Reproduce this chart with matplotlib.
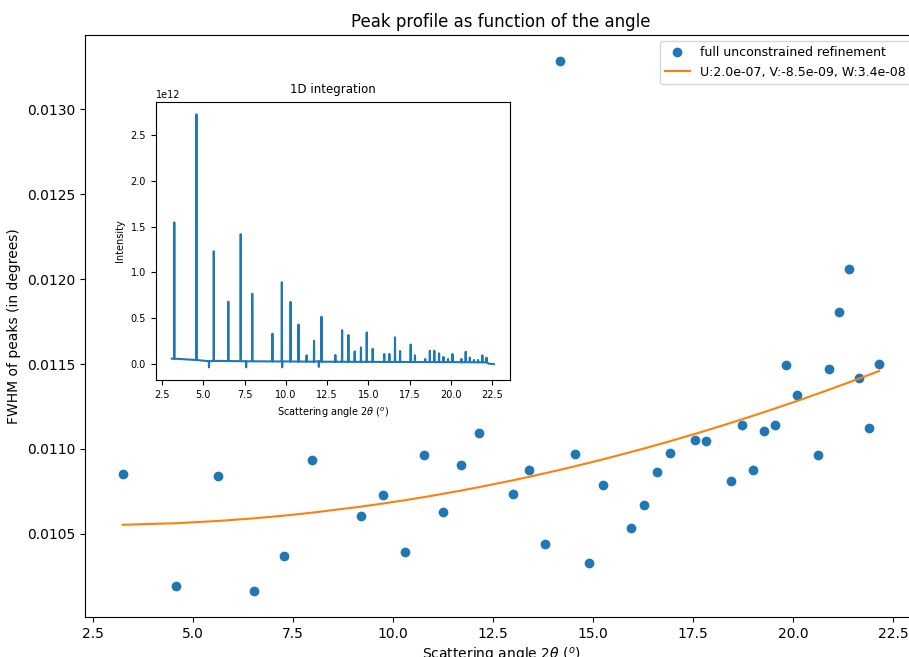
import numpy as np
import matplotlib
matplotlib.use('Agg')
import matplotlib.pyplot as plt

# Peak positions (2theta, degrees) and refined FWHM (degrees)
tth = [3.25, 4.59, 5.64, 6.52, 7.27, 7.97, 9.19, 9.76, 10.29, 10.77,
       11.26, 11.71, 12.16, 13.00, 13.41, 13.79, 14.17, 14.55, 14.90, 15.26,
       15.96, 16.27, 16.61, 16.92, 17.56, 17.82, 18.44, 18.72, 18.99, 19.28,
       19.55, 19.82, 20.09, 20.63, 20.89, 21.14, 21.39, 21.64, 21.90, 22.15]
fwhm = [0.010849, 0.010194, 0.010839, 0.010165, 0.010368, 0.010934, 0.010602, 0.010727, 0.010392, 0.010962,
        0.010626, 0.010907, 0.011096, 0.010733, 0.010877, 0.010437, 0.013283, 0.010967, 0.010328, 0.010788,
        0.010531, 0.010670, 0.010861, 0.010973, 0.011050, 0.011044, 0.010812, 0.011141, 0.010873, 0.011108,
        0.011141, 0.011492, 0.011315, 0.010962, 0.011470, 0.011806, 0.012062, 0.011419, 0.011120, 0.011498]

# Caglioti parameters (from legend)
U, V, W = 2.0e-07, -8.5e-09, 3.4e-08

# 1D integration pattern: peak tops and local baseline (units of 1e12)
peak_int = [1.546, 2.725, 1.232, 0.682, 1.418, 0.768, 0.332, 0.893, 0.679, 0.432,
            0.096, 0.254, 0.518, 0.100, 0.371, 0.318, 0.139, 0.182, 0.346, 0.168,
            0.111, 0.111, 0.293, 0.143, 0.214, 0.096, 0.057, 0.146, 0.146, 0.118,
            0.079, 0.057, 0.111, 0.057, 0.136, 0.071, 0.046, 0.046, 0.096, 0.071]
peak_base = [0.060, 0.045, 0.036, 0.034, 0.032, 0.031, 0.030, 0.029, 0.029, 0.028,
             0.028, 0.027, 0.027, 0.026, 0.026, 0.026, 0.025, 0.025, 0.025, 0.025,
             0.024, 0.024, 0.024, 0.024, 0.023, 0.023, 0.023, 0.023, 0.022, 0.022,
             0.022, 0.022, 0.022, 0.021, 0.021, 0.021, 0.021, 0.020, 0.020, 0.020]
dip_pos = [5.35, 7.60, 9.78, 12.00]
dip_val = [-0.035, -0.035, -0.035, -0.03]
pattern_start = [3.10, 0.060]
pattern_end_x = [22.30, 22.60]
pattern_end_y = [0.005, 0.000]

fig = plt.figure(figsize=(9.09, 6.57), dpi=100)
ax = fig.add_axes([0.0935, 0.0609, 0.9153, 0.8858])

ax.plot(tth, fwhm, 'o', label='full unconstrained refinement')
theta = np.radians(np.array(tth) / 2.0)
t = np.tan(theta)
model = np.degrees(np.sqrt(U * t**2 + V * t + W))
ax.plot(tth, model, '-', label=f'U:{U:.1e}, V:{V:.1e}, W:{W:.1e}')
ax.set_title('Peak profile as function of the angle')
ax.set_xlabel(r'Scattering angle 2$\theta$ ($^o$)')
ax.set_ylabel('FWHM of peaks (in degrees)')
ax.ticklabel_format(axis='y', useOffset=False)
ax.legend(loc='upper right', fontsize=9)

# inset pattern
events = []
for p, h, b in zip(tth, peak_int, peak_base):
    events.append((p - 0.012, b))
    events.append((p, h))
    events.append((p + 0.012, b))
for p, d in zip(dip_pos, dip_val):
    events.append((p - 0.012, 0.032))
    events.append((p, d))
    events.append((p + 0.012, 0.030))
events.sort(key=lambda e: e[0])
xs = [pattern_start[0]] + [e[0] for e in events] + pattern_end_x
ys = [pattern_start[1]] + [e[1] for e in events] + pattern_end_y
ys = np.array(ys) * 1e12

ins = fig.add_axes([0.1713, 0.4216, 0.3898, 0.4236])
ins.plot(xs, ys, '-', lw=1.5)
ins.set_title('1D integration', fontsize=8.5)
ins.set_xlabel(r'Scattering angle 2$\theta$ ($^o$)', fontsize=7)
ins.set_ylabel('Intensity', fontsize=7)
ins.tick_params(labelsize=7)
ins.yaxis.get_offset_text().set_fontsize(7)

fig.savefig('out.png', dpi=100)
